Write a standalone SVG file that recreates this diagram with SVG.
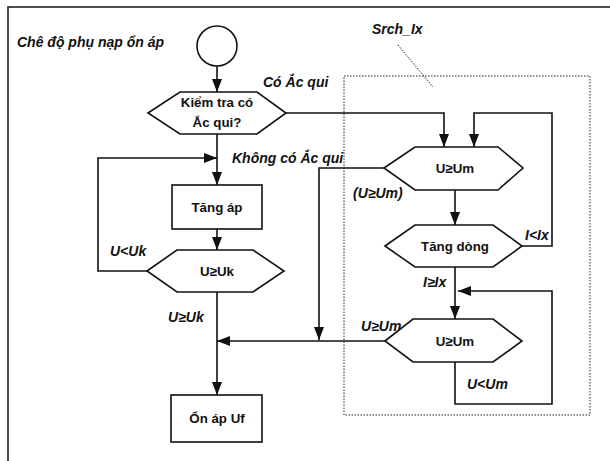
<svg xmlns="http://www.w3.org/2000/svg" width="610" height="461" viewBox="0 0 610 461">
<style>
.sh{fill:#fff;stroke:#111;stroke-width:1.6}
.nt{font-family:"Liberation Sans",Arial,sans-serif;font-weight:bold;font-size:13.3px;fill:#111;text-anchor:middle}
.lb{font-family:"Liberation Sans",Arial,sans-serif;font-weight:bold;font-style:italic;font-size:14px;fill:#111}
.cn{fill:none;stroke:#111;stroke-width:1.6}
.dot{fill:none;stroke:#222;stroke-width:1;stroke-dasharray:1.5 1.5}
</style>
<defs>
<marker id="ar" markerUnits="userSpaceOnUse" markerWidth="13" markerHeight="10" refX="13" refY="5" orient="auto">
<path d="M0,0 L13,5 L0,10 z" fill="#111"/>
</marker>
</defs>
<rect x="0" y="0" width="610" height="461" fill="#fff"/>
<rect x="8" y="7" width="620" height="470" fill="none" stroke="#222" stroke-width="1.6"/>
<text class="lb" x="17" y="47">Chê độ phụ nạp ổn áp</text>
<g id="srch">
<rect class="dot" x="344" y="76" width="246" height="339"/>
<line class="dot" x1="398" y1="45" x2="433" y2="87"/>
<text class="lb" x="372" y="34">Srch_Ix</text>
</g>
<g id="connectors">
<polyline class="cn" points="217,66 217,92" marker-end="url(#ar)"/>
<polyline class="cn" points="286,113 444,113 444,147" marker-end="url(#ar)"/>
<polyline class="cn" points="217,134 217,185" marker-end="url(#ar)"/>
<polyline class="cn" points="147,271 98,271 98,158 217,158" marker-end="url(#ar)"/>
<polyline class="cn" points="217,229 217,250" marker-end="url(#ar)"/>
<polyline class="cn" points="217,292 217,395" marker-end="url(#ar)"/>
<polyline class="cn" points="385,341 217,341" marker-end="url(#ar)"/>
<polyline class="cn" points="384,168 319,168 319,340" marker-end="url(#ar)"/>
<polyline class="cn" points="455,190 455,225" marker-end="url(#ar)"/>
<polyline class="cn" points="522,246 552,246 552,113 474,113 474,147" marker-end="url(#ar)"/>
<polyline class="cn" points="455,267 455,319" marker-end="url(#ar)"/>
<polyline class="cn" points="455,362 455,404 552,404 552,291 458,291" marker-end="url(#ar)"/>
<text class="lb" x="263" y="87">Có Ắc qui</text>
<text class="lb" x="232" y="163">Không có Ắc qui</text>
<text class="lb" x="110" y="256">U&lt;Uk</text>
<text class="lb" x="168" y="322">U≥Uk</text>
<text class="lb" x="353" y="198">(U≥Um)</text>
<text class="lb" x="525" y="240">I&lt;Ix</text>
<text class="lb" x="423" y="287">I≥Ix</text>
<text class="lb" x="361" y="331">U≥Um</text>
<text class="lb" x="467" y="389">U&lt;Um</text>
</g>
<g id="start"><circle class="sh" cx="217" cy="46" r="20"/></g>
<g id="check">
<polygon class="sh" points="148,113 180,92 257,92 286,113 257,134 180,134"/>
<text class="nt" x="217" y="107">Kiểm tra có</text>
<text class="nt" x="217" y="127">Ắc qui?</text>
</g>
<g id="tangap">
<rect class="sh" x="172" y="185" width="90" height="44"/>
<text class="nt" x="217" y="212">Tăng áp</text>
</g>
<g id="uk">
<polygon class="sh" points="147,271 177,250 253,250 284,271 253,292 177,292"/>
<text class="nt" x="217" y="276">U≥Uk</text>
</g>
<g id="onap">
<rect class="sh" x="171" y="395" width="91" height="47"/>
<text class="nt" x="217" y="423">Ổn áp Uf</text>
</g>
<g id="um1">
<polygon class="sh" points="384,168 415,147 498,147 523,168 498,190 415,190"/>
<text class="nt" x="455" y="173">U≥Um</text>
</g>
<g id="tangdong">
<polygon class="sh" points="385,246 415,225 493,225 522,246 493,267 415,267"/>
<text class="nt" x="455" y="251">Tăng dòng</text>
</g>
<g id="um2">
<polygon class="sh" points="385,341 413,319 493,319 522,341 493,362 413,362"/>
<text class="nt" x="455" y="346">U≥Um</text>
</g>
</svg>
